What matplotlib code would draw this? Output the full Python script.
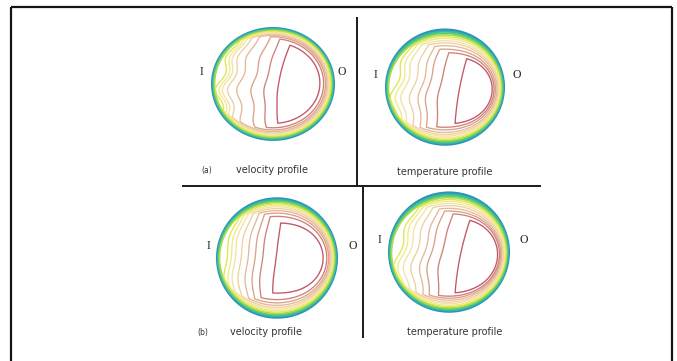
import numpy as np
import matplotlib
matplotlib.use("Agg")
import matplotlib.pyplot as plt

# contour levels, outermost (wall) to innermost core
LEVEL_COLORS = ['#2b93bb', '#38b5a4', '#5ccb72', '#a6dc4e', '#dfe650', '#eeeb88',
                '#f3e2a4', '#f0cfa0', '#e6b896', '#d9a18a', '#cf8278', '#c45868']
FIRST_DETACHED = 4  # levels below this one hug the wall all the way round

# distance of each contour from the wall on the outer (O) side
wall_offset_a_vel = [0.006, 0.018, 0.030, 0.042, 0.055, 0.068, 0.082, 0.098, 0.117, 0.14, 0.17, 0.23]
wall_offset_a_tmp = [0.006, 0.018, 0.030, 0.042, 0.055, 0.068, 0.084, 0.10, 0.12, 0.145, 0.17, 0.20]
wall_offset_b_vel = [0.006, 0.018, 0.030, 0.042, 0.055, 0.068, 0.082, 0.098, 0.117, 0.14, 0.17, 0.23]
wall_offset_b_tmp = [0.006, 0.018, 0.030, 0.042, 0.055, 0.068, 0.084, 0.10, 0.12, 0.14, 0.16, 0.19]

# position of each contour at mid height on the inner (I) side
inner_pos_a_vel = [-0.99, -0.97, -0.95, -0.92, -0.87, -0.81, -0.76, -0.68, -0.54, -0.32, -0.12, 0.09]
inner_pos_a_tmp = [-0.99, -0.97, -0.94, -0.90, -0.85, -0.77, -0.68, -0.54, -0.40, -0.28, -0.085, 0.25]
inner_pos_b_vel = [-0.99, -0.97, -0.95, -0.92, -0.86, -0.79, -0.72, -0.62, -0.50, -0.38, -0.25, -0.02]
inner_pos_b_tmp = [-0.99, -0.97, -0.94, -0.90, -0.84, -0.77, -0.68, -0.56, -0.42, -0.30, -0.12, 0.20]

# secondary-flow distortion of the contours, one entry per panel
tilt = [0.146, 0.19, 0.13, 0.22]
curve_outer = [0.40, 0.40, 0.45, 0.40]
curve_core = [0.18, 0.10, 0.0, 0.11]
wave_amp = [0.07, 0.06, 0.035, 0.06]
wave_len = [0.6, 0.65, 0.8, 0.7]
wave_left_y = [0.2, 0.15, 0.0, 0.1]
squash = [0.2, 1.1, 0.8, 0.96]
shift = [-0.08, 0.3, 0.0, 0.31]

captions = ['velocity profile', 'temperature profile', 'velocity profile', 'temperature profile']
tags = ['(a)', None, '(b)', None]

# panel geometry in pixels: centre, radii, label positions
centres = [(273, 84), (445, 87), (277, 258), (449, 252)]
radii = [(61, 56), (59, 58), (60, 60), (60, 60)]
label_i_x = [201, 375, 208, 379]
label_o_x = [342, 517, 353, 524]
caption_xy = [(272, 170), (445, 172), (266, 332), (455, 332)]
tag_xy = [(207, 170), None, (203, 332), None]

offsets = [wall_offset_a_vel, wall_offset_a_tmp, wall_offset_b_vel, wall_offset_b_tmp]
inner = [inner_pos_a_vel, inner_pos_a_tmp, inner_pos_b_vel, inner_pos_b_tmp]


def field(k, x, y):
    n = len(LEVEL_COLORS)
    m = FIRST_DETACHED
    lev = list(np.arange(n, dtype=float))
    r = np.hypot(x, y)
    sin_t = np.where(r > 0, y / np.maximum(r, 1e-9), 0.0)
    # wall-following part
    d = (1 - r) / (1 + squash[k] * sin_t ** 2 + shift[k] * sin_t)
    f_wall = np.interp(d, [0.0] + list(offsets[k]) + [1.5], [-1.0] + lev + [n])
    # inner-side part, wavy and bent lines
    w = np.clip((x + 1) / 1.1, 0, 1)
    crv = curve_core[k] + (curve_outer[k] - curve_core[k]) * (1 - w)
    phase = 2 * np.pi * (y - wave_left_y[k]) / wave_len[k] + np.pi / 2
    c = tilt[k] * y + crv * y ** 2 + wave_amp[k] * (1 - w) * np.sin(phase)
    s = x + 1 - c
    pos = [p + 1 for p in inner[k][m:]]
    f_in = np.interp(s, [pos[0] - 0.05] + pos + [3.0], [m - 0.5] + lev[m:] + [n])
    f = np.minimum(f_wall, f_in)
    return np.ma.masked_where(r > 1.0, f)


fig = plt.figure(figsize=(6.77, 3.61), dpi=100)
ax = fig.add_axes([0, 0, 1, 1])
ax.set_xlim(0, 677)
ax.set_ylim(361, 0)
ax.axis('off')

g = np.linspace(-1.01, 1.01, 500)
gx, gy = np.meshgrid(g, g)

for k in range(4):
    cx, cy = centres[k]
    rx, ry = radii[k]
    F = field(k, gx, gy)
    widths = [2.0, 1.6, 1.4, 1.2] + [0.95] * (len(LEVEL_COLORS) - 4)
    ax.contour(cx + rx * gx, cy - ry * gy, F, levels=np.arange(len(LEVEL_COLORS)),
               colors=LEVEL_COLORS, linewidths=widths)
    ax.text(label_i_x[k], cy - 12, 'I', family='Liberation Serif', fontsize=8.5,
            ha='center', va='center', color='#222222')
    ax.text(label_o_x[k], cy - 12, 'O', family='Liberation Serif', fontsize=8.5,
            ha='center', va='center', color='#222222')
    ax.text(*caption_xy[k], captions[k], fontsize=7, ha='center', va='center',
            color='#333333')
    if tags[k]:
        ax.text(*tag_xy[k], tags[k], fontsize=5.5, ha='center', va='center', color='#333333')

# outer frame (open at the bottom edge)
frame = dict(color='#151515', lw=1.6, solid_capstyle='butt')
ax.plot([11, 11], [7, 361], **frame)
ax.plot([11, 672], [7, 7], **frame)
ax.plot([672, 672], [7, 361], **frame)

# dividers between the panels
div = dict(color='#1a1a1a', lw=1.4, solid_capstyle='butt')
ax.plot([357, 357], [17, 186], **div)
ax.plot([182, 541], [186, 186], **div)
ax.plot([363, 363], [186, 338], **div)

fig.savefig('out.png', dpi=100)
